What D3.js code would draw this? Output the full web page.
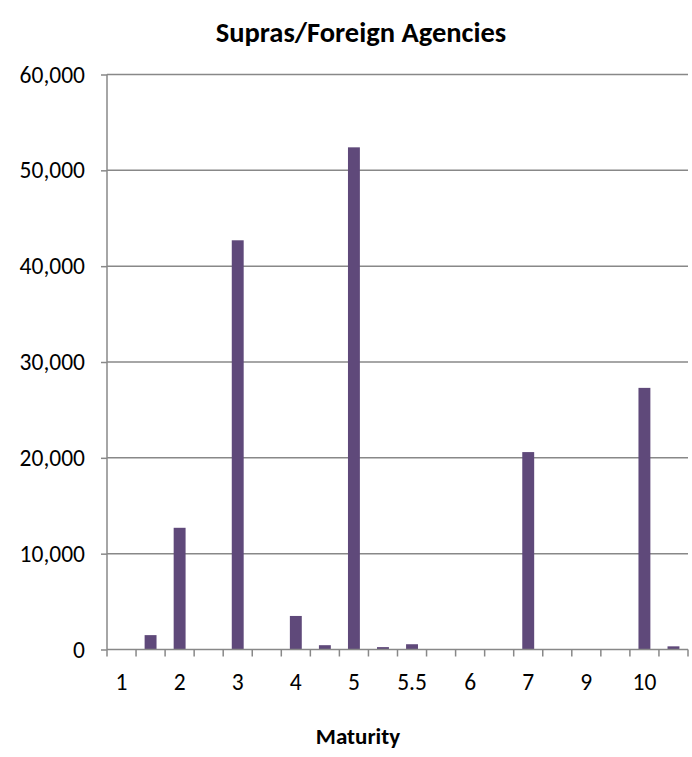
<!DOCTYPE html>
<html>
<head>
<meta charset="utf-8">
<script src="https://cdn.jsdelivr.net/npm/d3@7"></script>
<style>
  html, body { margin: 0; padding: 0; background: #fff; }
  svg { display: block; font-family: Calibri, Carlito, "Open Sans", "Noto Sans", sans-serif; }
</style>
</head>
<body>
<svg id="chart" width="692" height="757"></svg>
<script>
// Maturity buckets (every other bucket carries a visible label)
const maturities = ["1", "1.5", "2", "2.5", "3", "3.5", "4", "4.5", "5", "5.25",
                    "5.5", "5.75", "6", "6.5", "7", "8", "9", "9.5", "10", "12"];
const shownLabels = ["1", "2", "3", "4", "5", "5.5", "6", "7", "9", "10"];
// Issuance amount per maturity bucket
const amounts = [0, 1500, 12700, 0, 42700, 0, 3500, 450, 52400, 250,
                 550, 0, 0, 0, 20600, 0, 0, 0, 27300, 330];
const yTicks = [0, 10000, 20000, 30000, 40000, 50000, 60000];

const data = maturities.map((m, i) => ({ maturity: m, amount: amounts[i] }));

const margin = { top: 74.5, right: 4, bottom: 107.5, left: 107 };
const width = 692, height = 757;
const svg = d3.select("#chart");

const x = d3.scaleBand()
  .domain(maturities)
  .range([margin.left, width - margin.right])
  .paddingInner(0.59)
  .paddingOuter(0.295);

// a plain band scale for tick boundaries
const xb = d3.scaleBand().domain(maturities).range([margin.left, width - margin.right]);

const y = d3.scaleLinear()
  .domain([0, 60000])
  .range([height - margin.bottom, margin.top]);

const grey = "#888888";

// horizontal gridlines
svg.append("g")
  .selectAll("line")
  .data(yTicks.filter(d => d > 0))
  .join("line")
  .attr("x1", margin.left)
  .attr("x2", width - margin.right)
  .attr("y1", d => y(d))
  .attr("y2", d => y(d))
  .attr("stroke", grey)
  .attr("stroke-width", 1.5);

// bars
svg.append("g")
  .selectAll("rect")
  .data(data.filter(d => d.amount > 0))
  .join("rect")
  .attr("x", d => x(d.maturity))
  .attr("width", x.bandwidth())
  .attr("y", d => y(d.amount))
  .attr("height", d => y(0) - y(d.amount))
  .attr("fill", "#5f497a");

// y axis
const yAxis = svg.append("g")
  .attr("transform", `translate(${margin.left},0)`)
  .call(d3.axisLeft(y).tickValues(yTicks).tickSize(6).tickPadding(16)
    .tickFormat(d3.format(",")));
yAxis.select(".domain").attr("stroke", grey).attr("stroke-width", 1.5)
  .attr("d", `M0,${y(0)}V${y(60000)}`);
yAxis.selectAll(".tick line").attr("stroke", grey).attr("stroke-width", 1.5);
yAxis.selectAll(".tick text")
  .attr("font-family", "Calibri, Carlito, 'Open Sans', sans-serif")
  .attr("font-size", 23.5).attr("fill", "#000");

// x axis: ticks on bucket boundaries
const boundaries = maturities.map(m => xb(m)).concat([width - margin.right]);
const xg = svg.append("g");
xg.append("line")
  .attr("x1", margin.left).attr("x2", width - margin.right)
  .attr("y1", y(0)).attr("y2", y(0))
  .attr("stroke", grey).attr("stroke-width", 1.5);
xg.selectAll("line.tk")
  .data(boundaries)
  .join("line")
  .attr("class", "tk")
  .attr("x1", d => d).attr("x2", d => d)
  .attr("y1", y(0)).attr("y2", y(0) + 7)
  .attr("stroke", grey).attr("stroke-width", 1.5);
xg.selectAll("text")
  .data(maturities.filter(m => shownLabels.includes(m)))
  .join("text")
  .attr("x", d => xb(d) + xb.bandwidth() / 2)
  .attr("y", y(0) + 40)
  .attr("text-anchor", "middle")
  .attr("font-size", 23.5)
  .attr("fill", "#000")
  .text(d => d);

// title
svg.append("text")
  .attr("x", 361).attr("y", 42)
  .attr("text-anchor", "middle")
  .attr("font-size", 28.5).attr("font-weight", "bold")
  .text("Supras/Foreign Agencies");

// x axis title
svg.append("text")
  .attr("x", 358).attr("y", 744)
  .attr("text-anchor", "middle")
  .attr("font-size", 23).attr("font-weight", "bold")
  .text("Maturity");
</script>
</body>
</html>
